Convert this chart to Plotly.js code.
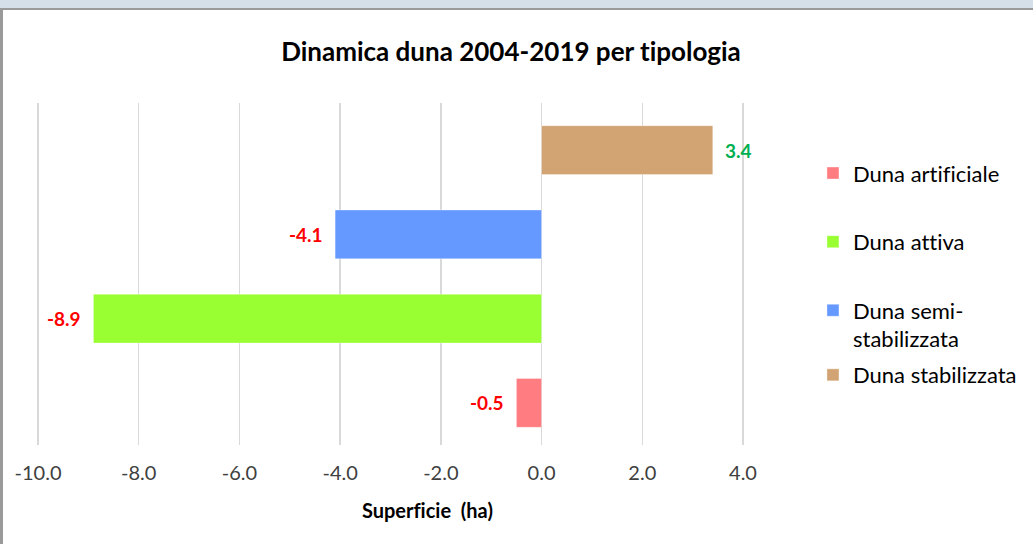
<!DOCTYPE html>
<html>
<head>
<meta charset="utf-8">
<script src="https://cdn.plot.ly/plotly-3.0.1.min.js"></script>
<style>
  html, body { margin: 0; padding: 0; width: 1033px; height: 544px; overflow: hidden; background: #d5dfe9; }
  #frame { position: absolute; left: 0; top: 8px; width: 1033px; height: 536px; background: #9a9a9a; }
  #chart { position: absolute; left: 3px; top: 10px; width: 1030px; height: 534px; background: #fff; }
  #chart text { font-variant-ligatures: none; font-feature-settings: "liga" 0; }
</style>
</head>
<body>
<div id="frame"></div>
<div id="chart"></div>
<script>
const categories = ["Duna artificiale", "Duna attiva", "Duna semi-<br>stabilizzata", "Duna stabilizzata"];
const values = [-0.5, -8.9, -4.1, 3.4];
const barColors = ["#ff7c80", "#99ff33", "#6699ff", "#d2a373"];
const tickValues = [-10, -8, -6, -4, -2, 0, 2, 4];
const tickLabels = ["-10.0", "-8.0", "-6.0", "-4.0", "-2.0", "0.0", "2.0", "4.0"];

const FONT = "Lato, 'Open Sans', sans-serif";

const traces = categories.map((c, i) => ({
  type: "bar",
  orientation: "h",
  name: c,
  y: [c],
  x: [values[i]],
  marker: { color: barColors[i], line: { color: "rgba(255,255,255,0.35)", width: 1 } },
  legendgroup: "g" + i,
  legend: i === 3 ? "legend2" : "legend",
  hoverinfo: "x+name"
}));

const labelAnnotations = categories.map((c, i) => ({
  x: values[i],
  y: c,
  xref: "x",
  yref: "y",
  text: "<b>" + values[i].toFixed(1) + "</b>",
  showarrow: false,
  xanchor: values[i] < 0 ? "right" : "left",
  xshift: values[i] < 0 ? -10 : 10,
  font: { family: FONT, size: 19, color: values[i] < 0 ? "#ff0000" : "#00b050" }
}));

const layout = {
  width: 1030,
  height: 534,
  margin: { l: 34, r: 288, t: 93, b: 99 },
  paper_bgcolor: "#ffffff",
  plot_bgcolor: "#ffffff",
  barmode: "overlay",
  bargap: 0.42,
  title: {
    text: "<b>Dinamica duna 2004-2019 per tipologia</b>",
    font: { family: FONT, size: 26, color: "#000000" },
    x: 0.4932, xref: "container", xanchor: "center",
    y: 1 - 42 / 534, yref: "container", yanchor: "middle"
  },
  xaxis: {
    range: [-10.02, 4.02],
    tickvals: tickValues,
    ticktext: tickLabels,
    showgrid: true,
    gridcolor: "#d9d9d9",
    gridwidth: 1.5,
    zeroline: true,
    zerolinecolor: "#d9d9d9",
    zerolinewidth: 1.5,
    showline: false,
    ticks: "",
    ticklabelstandoff: 14,
    tickfont: { family: FONT, size: 20, color: "#404040" },
    fixedrange: true
  },
  yaxis: {
    type: "category",
    categoryorder: "array",
    categoryarray: categories,
    range: [-0.5, 3.56],
    showticklabels: false,
    showgrid: false,
    zeroline: false,
    showline: false,
    ticks: "",
    fixedrange: true
  },
  showlegend: true,
  legend: {
    x: 1.096, xanchor: "left",
    y: 0.856, yanchor: "top",
    traceorder: "grouped",
    tracegroupgap: 37,
    valign: "top",
    font: { family: FONT, size: 22, color: "#000000" },
    bgcolor: "rgba(0,0,0,0)"
  },
  legend2: {
    x: 1.096, xanchor: "left",
    y: 0.266, yanchor: "top",
    traceorder: "grouped",
    valign: "top",
    font: { family: FONT, size: 22, color: "#000000" },
    bgcolor: "rgba(0,0,0,0)"
  },
  annotations: labelAnnotations.concat([{
    text: "<b>Superficie  (ha)</b>",
    xref: "paper", yref: "paper",
    x: 0.553, y: -0.19,
    xanchor: "center", yanchor: "middle",
    showarrow: false,
    font: { family: FONT, size: 20, color: "#000000" }
  }])
};

Plotly.newPlot("chart", traces, layout, { displayModeBar: false, staticPlot: true });
</script>
</body>
</html>
